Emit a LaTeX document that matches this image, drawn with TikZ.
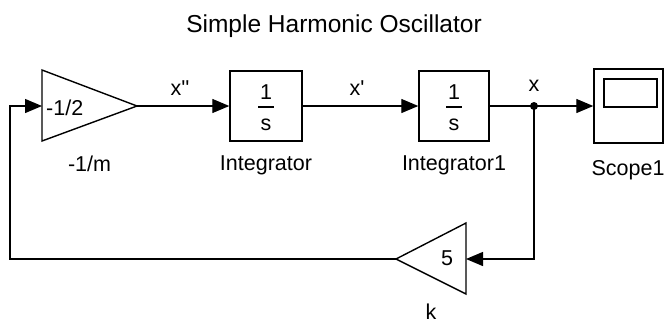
\documentclass[tikz,border=0pt]{standalone}
\usepackage{fontspec}
\setmainfont{Liberation Sans}
\usetikzlibrary{arrows.meta}
\begin{document}
\begin{tikzpicture}[x=1pt,y=-1pt,
  lbl/.style={font=\fontsize{21.5pt}{24pt}\selectfont, inner sep=0pt, anchor=base},
  blk/.style={draw, line width=1.4pt, inner sep=0pt},
  wire/.style={line width=1.3pt},
  arr/.style={wire, -{Triangle[length=17pt,width=14pt]}},
]
\useasboundingbox (0,0) rectangle (666,322);

% title
\node[lbl, font=\fontsize{24.5pt}{27pt}\selectfont] (title) at (334,32) {Simple Harmonic Oscillator};

% gain -1/m
\coordinate (g1in) at (42,106);
\coordinate (g1out) at (137,106);
\draw[line width=1.4pt] (42,70) -- (g1out) -- (42,141) -- cycle;
\node[lbl, anchor=base west] (g1txt) at (46,115) {-1/2};
\node[lbl] (g1lbl) at (89.5,171) {-1/m};

% integrator
\node[blk, minimum width=72pt, minimum height=70pt] (int1) at (266,106) {};
\node[lbl] (int1num) at (266,99) {1};
\draw[wire] (258,107) -- (274,107);
\node[lbl] (int1den) at (266,130) {s};
\node[lbl] (int1lbl) at (266,170) {Integrator};

% integrator1
\node[blk, minimum width=70pt, minimum height=70pt] (int2) at (454,106) {};
\node[lbl] (int2num) at (454,99) {1};
\draw[wire] (446,107) -- (462,107);
\node[lbl] (int2den) at (454,130) {s};
\node[lbl] (int2lbl) at (454,170) {Integrator1};

% scope
\node[blk, minimum width=69pt, minimum height=74pt] (scope) at (628.5,106) {};
\draw[line width=1.4pt] (604,79) rectangle (657,107);
\node[lbl] (scopelbl) at (628,175) {Scope1};

% gain k
\coordinate (kin) at (466,259);
\coordinate (kout) at (396,259);
\draw[line width=1.4pt] (466,223) -- (kout) -- (466,294) -- cycle;
\node[lbl] (ktxt) at (447,265) {5};
\node[lbl] (klbl) at (431,319) {k};

% branch
\coordinate (br) at (534,106);
\fill (br) circle (4pt);
\coordinate (fbl) at (10,259);

% wires
\draw[arr] (g1out) -- (int1.west);
\draw[arr] (int1.east) -- (int2.west);
\draw[wire] (int2.east) -- (br);
\draw[arr] (br) -- (scope.west);
\draw[arr] (br) |- (kin);
\draw[arr] (kout) -- (fbl) |- (g1in);

% signal labels
\node[lbl] (xpp) at (180,95) {x\textquotesingle\textquotesingle};
\node[lbl] (xp) at (357,95) {x\textquotesingle};
\node[lbl] (x) at (534,91) {x};
\end{tikzpicture}
\end{document}
